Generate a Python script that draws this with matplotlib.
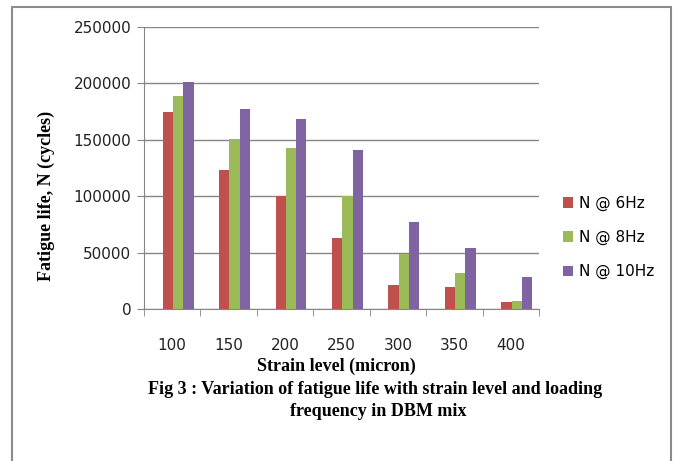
import matplotlib.pyplot as plt
from matplotlib.patches import Rectangle
import numpy as np

# strain level (micron) and fatigue life N (cycles) at each loading frequency
strain = ['100', '150', '200', '250', '300', '350', '400']
n_6hz = [175000, 123000, 100000, 63000, 21000, 19500, 6500]
n_8hz = [189000, 151000, 143000, 100000, 49000, 32000, 7500]
n_10hz = [201000, 177500, 168500, 141000, 77500, 54000, 28500]
series_names = ['N @ 6Hz', 'N @ 8Hz', 'N @ 10Hz']
colors = ['#C0504D', '#9BBB59', '#8064A2']

W, H = 673, 461
fig = plt.figure(figsize=(W / 100, H / 100), dpi=100)

# axes placed in pixel coords: left 144, right 539, top 27, bottom 309
ax = fig.add_axes([144 / W, 1 - 309 / H, (539 - 144) / W, (309 - 27) / H])

x = np.arange(len(strain))
bw = 0.183
shift = 0.105  # bar groups sit a little right of the labels in the original
for i, (vals, c, lab) in enumerate(zip([n_6hz, n_8hz, n_10hz], colors, series_names)):
    ax.bar(x + shift + (i - 1) * bw, vals, width=bw, color=c, label=lab, zorder=3)

ax.set_xlim(-0.5, len(strain) - 0.5)
ax.set_ylim(0, 250000)
ax.set_yticks(np.arange(0, 250001, 50000))
ax.set_yticklabels([str(v) for v in range(0, 250001, 50000)])
ax.yaxis.grid(True, color='#868686', linewidth=1.0, zorder=0)

ax.set_xticks(x)
ax.set_xticklabels(strain)
ax.set_xticks(np.arange(-0.5, len(strain), 1.0), minor=True)
ax.tick_params(axis='x', which='major', length=0, pad=21, labelsize=11, colors='#222222')
ax.tick_params(axis='x', which='minor', length=5, color='#868686', direction='out')
ax.tick_params(axis='y', length=5, color='#868686', labelsize=11, pad=4, labelcolor='#222222')

for s in ['top', 'right']:
    ax.spines[s].set_visible(False)
ax.spines['left'].set_color('#868686')
ax.spines['bottom'].set_color('#868686')

fig.text(46 / W, 1 - 196 / H, 'Fatigue life, N (cycles)', family='Liberation Serif',
         fontweight='bold', fontsize=13, ha='center', va='center', rotation=90)

leg = fig.legend(loc='upper left', bbox_to_anchor=(555 / W, 1 - 188 / H), frameon=False,
                 fontsize=11, handlelength=0.7, handleheight=0.7, handletextpad=0.4,
                 labelspacing=1.25, borderpad=0)

fig.text(336 / W, 1 - 366 / H, 'Strain level (micron)', family='Liberation Serif',
         fontweight='bold', fontsize=13, ha='center', va='center')
fig.text(375 / W, 1 - 390 / H, 'Fig 3 : Variation of fatigue life with strain level and loading',
         family='Liberation Serif', fontweight='bold', fontsize=13, ha='center', va='center')
fig.text(378 / W, 1 - 411 / H, 'frequency in DBM mix',
         family='Liberation Serif', fontweight='bold', fontsize=13, ha='center', va='center')

# outer chart border
fig.patches.append(Rectangle((12 / W, -0.05), (671 - 12) / W, 1 - 7 / H + 0.05,
                             transform=fig.transFigure, fill=False,
                             edgecolor='#8c8c8c', linewidth=1.5))

fig.savefig('out.png', dpi=100)
